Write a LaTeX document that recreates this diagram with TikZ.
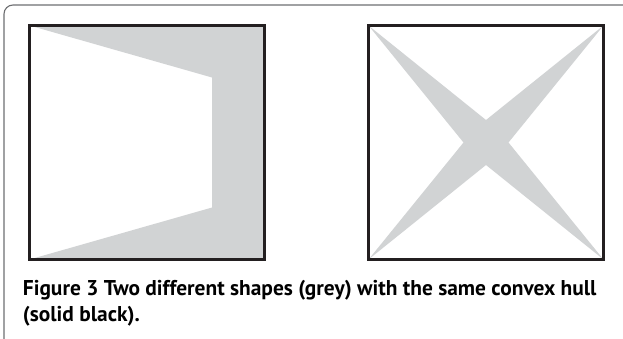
\documentclass[tikz,border=0pt]{standalone}
\usepackage{fontspec}
\setmainfont{PT Sans}
\usetikzlibrary{positioning}

\definecolor{shapegrey}{HTML}{D1D3D4}
\definecolor{hullblack}{HTML}{231F20}
\definecolor{framegrey}{HTML}{6D6E71}

\begin{document}
\begin{tikzpicture}[x=1pt, y=-1pt,
  hull/.style={draw=hullblack, line width=3pt, line join=miter},
  greyshape/.style={fill=shapegrey},
  boxframe/.style={draw=framegrey, line width=1.1pt, rounded corners=9pt}]

\useasboundingbox (0,0) rectangle (623,338);
\clip (0,0) rectangle (623,338);

% figure frame (open to the right and bottom)
\draw[boxframe] (4,345) -- (4,5) -- (640,5);

% --- left shape: square with a wedge cut out ---
\fill[greyshape] (29.5,25.5) -- (264.5,25.5) -- (264.5,259.5) -- (29.5,259.5)
  -- (212,207.5) -- (212,77.5) -- cycle;
\draw[hull] (29.5,25.5) rectangle (264.5,259.5);

% --- right shape: four-pointed star ---
\fill[greyshape] (368.5,25.5) -- (486,120) -- (603.5,25.5) -- (508.5,142.5)
  -- (603.5,259.5) -- (486,165) -- (368.5,259.5) -- (463.5,142.5) -- cycle;
\draw[hull] (368.5,25.5) rectangle (603.5,259.5);

% --- caption (base anchor sits on the last line) ---
\node[anchor=base west, inner sep=0pt, align=left,
  font=\fontsize{21.4}{26}\selectfont\bfseries] (caption) at (22.7,321)
  {Figure 3 Two different shapes (grey) with the same convex hull\\(solid black).};

\end{tikzpicture}
\end{document}
